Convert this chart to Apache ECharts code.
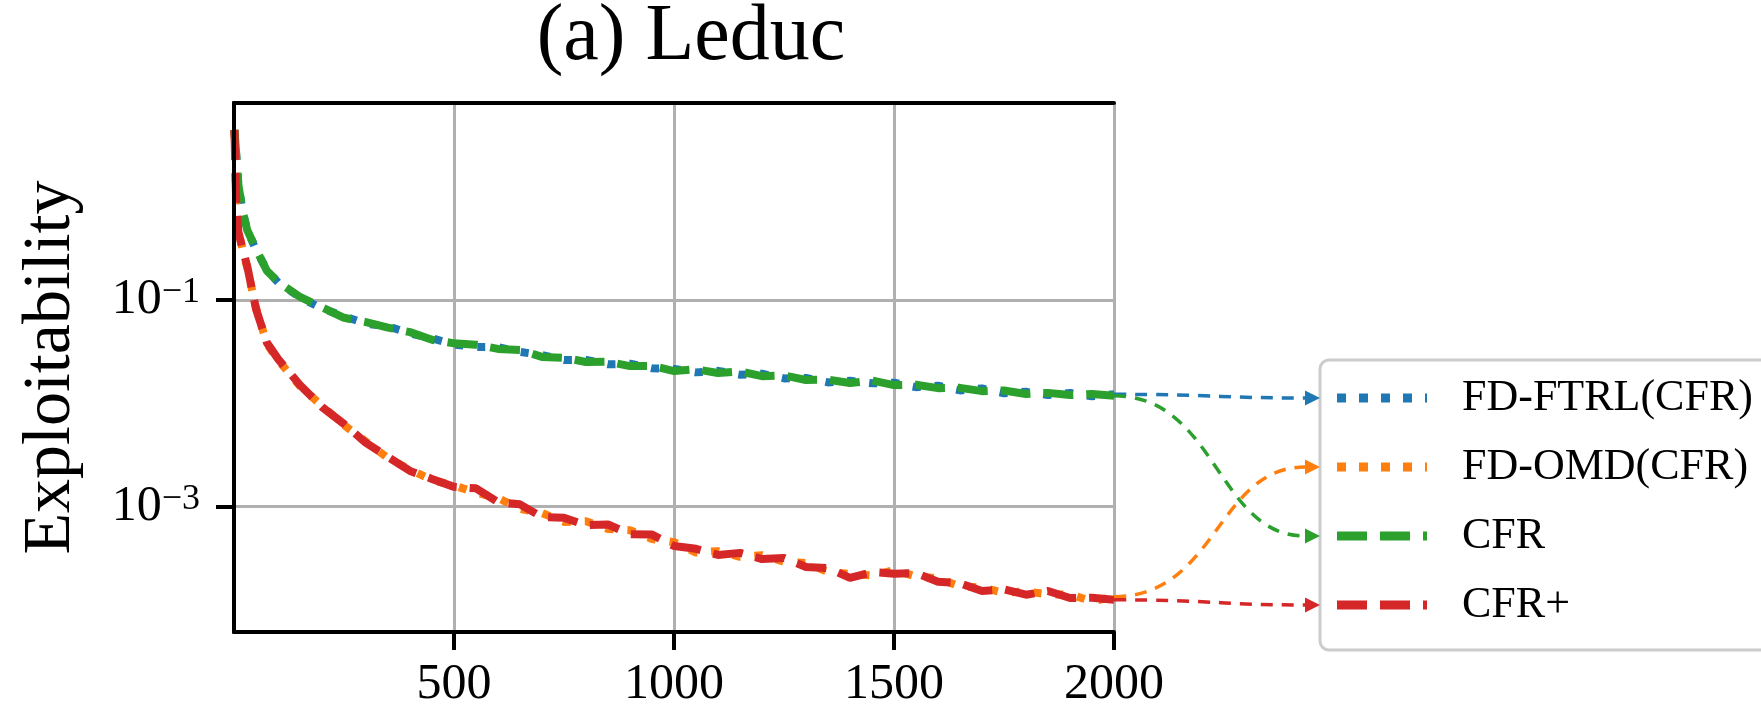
<!DOCTYPE html>
<html>
<head>
<meta charset="utf-8">
<script src="https://cdn.jsdelivr.net/npm/echarts@6/dist/echarts.min.js"></script>
<style>
  html, body { margin: 0; padding: 0; background: #fff; }
  #chart { width: 1761px; height: 713px; }
</style>
</head>
<body>
<div id="chart"></div>
<script>
const iterations = [1, 5, 10, 20, 30, 50, 75, 100, 150,
  200, 250, 300, 350, 400, 450, 500,
  550, 600, 650, 700, 750, 800, 850, 900, 950, 1000,
  1050, 1100, 1150, 1200, 1250, 1300, 1350, 1400, 1450, 1500,
  1550, 1600, 1650, 1700, 1750, 1800, 1850, 1900, 1950, 2000]

const fdFtrl = [4.40, 2.55, 1.32, 0.70, 0.48, 0.305, 0.194, 0.148, 0.106,
  0.0826, 0.0696, 0.0588, 0.0556, 0.0472, 0.0426, 0.0370,
  0.0350, 0.0350, 0.0314, 0.0293, 0.0262, 0.0263, 0.0238, 0.0241, 0.0218, 0.0215,
  0.0199, 0.0206, 0.0189, 0.0193, 0.0174, 0.0176, 0.0159, 0.0165, 0.0156, 0.0158,
  0.0143, 0.0148, 0.0133, 0.0139, 0.0125, 0.0129, 0.0120, 0.0126, 0.0117, 0.0122]

const fdOmd = [4.40, 0.90, 0.47, 0.300, 0.205, 0.0840, 0.0375, 0.0262, 0.0146,
  0.00945, 0.00615, 0.00425, 0.00294, 0.00228, 0.00180, 0.00160,
  0.00136, 0.00121, 0.000950, 0.000865, 0.000710, 0.000722, 0.000605, 0.000590, 0.000485, 0.000452,
  0.000358, 0.000370, 0.000326, 0.000338, 0.000292, 0.000283, 0.000233, 0.000222, 0.000215, 0.000242,
  0.000210, 0.000202, 0.000168, 0.000165, 0.000146, 0.000151, 0.000141, 0.000141, 0.000121, 0.000134]

const cfr = [4.43, 2.60, 1.30, 0.711, 0.476, 0.312, 0.191, 0.150, 0.107,
  0.0850, 0.0672, 0.0610, 0.0540, 0.0488, 0.0412, 0.0380,
  0.0368, 0.0336, 0.0328, 0.0281, 0.0276, 0.0251, 0.0252, 0.0229, 0.0230, 0.0205,
  0.0213, 0.0196, 0.0203, 0.0183, 0.0186, 0.0168, 0.0169, 0.0157, 0.0166, 0.0150,
  0.0151, 0.0140, 0.0141, 0.0131, 0.0133, 0.0123, 0.0126, 0.0120, 0.0123, 0.0118]

const cfrPlus = [4.43, 0.87, 0.455, 0.305, 0.213, 0.0818, 0.0384, 0.0269, 0.0150,
  0.0092, 0.0063, 0.00413, 0.00302, 0.00221, 0.00185, 0.00155,
  0.00150, 0.00110, 0.00105, 0.000790, 0.000780, 0.000660, 0.000670, 0.000540, 0.000535, 0.000415,
  0.000390, 0.000340, 0.000356, 0.000310, 0.000318, 0.000260, 0.000254, 0.000204, 0.000232, 0.000224,
  0.000227, 0.000187, 0.000181, 0.000152, 0.000158, 0.000140, 0.000152, 0.000130, 0.000131, 0.000125]

const xTicks = [500, 1000, 1500, 2000]
const yTicks = [0.1, 0.001]

const FONT = 'Liberation Serif'
const BLUE = '#1f77b4', ORANGE = '#ff7f0e', GREEN = '#2ca02c', RED = '#d62728'

// legend layout
const legendLeft = 1320
const legendTop = 360
const legendPadTop = 13
const rowH = 50
const rowGap = 19
const rowY = (i) => legendTop + legendPadTop + rowH / 2 + i * (rowH + rowGap)

// legend samples, 90 x 9
const dottedIcon = 'path://M0,0h9v9h-9z M22,0h9v9h-9z M44,0h9v9h-9z M66,0h9v9h-9z M88,0h2v9h-2z'
const dashedIcon = 'path://M0,0h30v9h-30z M43,0h30v9h-30z M86,0h4v9h-4z'

const pairs = (vals) => iterations.map((it, i) => [it, vals[i]])

const chart = echarts.init(document.getElementById('chart'))

const line = (name, vals, color, dash) => ({
  name: name,
  type: 'line',
  data: pairs(vals),
  color: color,
  symbol: 'none',
  lineStyle: { color: color, width: 8, type: dash, cap: 'butt' },
  z: 2
})

const option = {
  animation: false,
  backgroundColor: '#fff',
  grid: { left: 234, right: 647, top: 103, bottom: 81, outerBoundsMode: 'none', containLabel: false },
  legend: {
    orient: 'vertical',
    left: legendLeft,
    top: legendTop,
    padding: [legendPadTop, 400, 20, 17],
    itemWidth: 90,
    itemHeight: 9,
    itemGap: rowGap,
    selectedMode: false,
    backgroundColor: '#fff',
    borderColor: '#cccccc',
    borderWidth: 3,
    borderRadius: 9,
    itemStyle: { borderWidth: 0 },
    textStyle: { fontFamily: FONT, fontSize: 44, color: '#000', lineHeight: rowH, padding: [0, 0, 0, 30] },
    data: [
      { name: 'FD-FTRL(CFR)', icon: dottedIcon },
      { name: 'FD-OMD(CFR)', icon: dottedIcon },
      { name: 'CFR', icon: dashedIcon },
      { name: 'CFR+', icon: dashedIcon }
    ]
  },
  xAxis: [{
    type: 'value',
    min: 0,
    max: 2000,
    position: 'bottom',
    axisLine: { show: true, lineStyle: { color: '#000', width: 4 } },
    axisTick: { show: true, length: 18, customValues: xTicks, lineStyle: { color: '#000', width: 4 } },
    axisLabel: { customValues: xTicks, margin: 28, fontFamily: FONT, fontSize: 50, color: '#000',
      formatter: (v) => String(v) },
    splitLine: { show: true, lineStyle: { color: '#b0b0b0', width: 3 } }
  }, {
    // top spine
    type: 'value',
    min: 0,
    max: 2000,
    position: 'top',
    z: 3,
    axisLine: { show: true, lineStyle: { color: '#000', width: 4 } },
    axisTick: { show: false },
    axisLabel: { show: false },
    splitLine: { show: false }
  }],
  yAxis: [{
    type: 'log',
    logBase: 10,
    min: 6.1e-5,
    max: 8.07,
    position: 'left',
    name: 'Exploitability',
    nameLocation: 'middle',
    nameGap: 149,
    nameMoveOverlap: false,
    nameTextStyle: { fontFamily: FONT, fontSize: 68, color: '#000' },
    axisLine: { show: true, lineStyle: { color: '#000', width: 4 } },
    axisTick: { show: true, length: 18, customValues: yTicks, lineStyle: { color: '#000', width: 4 } },
    minorTick: { show: false },
    axisLabel: {
      customValues: yTicks,
      margin: 34,
      formatter: (v) => '{b|10}{s|\u2212' + (-Math.round(Math.log10(v))) + '}',
      rich: {
        b: { fontFamily: FONT, fontSize: 50, color: '#000', lineHeight: 50 },
        s: { fontFamily: FONT, fontSize: 36, color: '#000', lineHeight: 22, verticalAlign: 'top' }
      }
    },
    splitLine: { show: true, lineStyle: { color: '#b0b0b0', width: 3 } },
    minorSplitLine: { show: false }
  }, {
    // right spine
    type: 'log',
    logBase: 10,
    min: 6.1e-5,
    max: 8.07,
    position: 'right',
    z: 3,
    axisLine: { show: true, lineStyle: { color: '#000', width: 4 } },
    axisTick: { show: false },
    axisLabel: { show: false },
    splitLine: { show: false }
  }],
  series: [
    line('FD-FTRL(CFR)', fdFtrl, BLUE, [8, 14]),
    line('FD-OMD(CFR)', fdOmd, ORANGE, [8, 14]),
    line('CFR', cfr, GREEN, [30, 13]),
    line('CFR+', cfrPlus, RED, [30, 13])
  ],
  graphic: [{
    type: 'text',
    style: { text: '(a) Leduc', x: 691, y: 38, textAlign: 'center', textVerticalAlign: 'middle',
      font: '80px "Liberation Serif"', fill: '#000' },
    z: 10
  }]
}

chart.setOption(option)

// dashed arrows from each curve's last point to its legend row
const head = 15
const arrows = []
const ends = [[fdFtrl, BLUE], [fdOmd, ORANGE], [cfr, GREEN], [cfrPlus, RED]]
ends.forEach(([vals, color], i) => {
  const p = chart.convertToPixel({ xAxisIndex: 0, yAxisIndex: 0 },
    [iterations[iterations.length - 1], vals[vals.length - 1]])
  const x0 = p[0], y0 = p[1]
  const x1 = legendLeft, y1 = rowY(i)
  const xm = (x0 + x1) / 2
  arrows.push({
    type: 'bezierCurve',
    z: 20,
    shape: { x1: x0, y1: y0, x2: x1 - head, y2: y1, cpx1: xm, cpy1: y0, cpx2: xm, cpy2: y1 },
    style: { stroke: color, lineWidth: 3.5, lineDash: [12, 9], fill: 'none' }
  })
  arrows.push({
    type: 'polygon',
    z: 20,
    shape: { points: [[x1, y1], [x1 - head, y1 - 7.5], [x1 - head, y1 + 7.5]] },
    style: { fill: color }
  })
})

chart.setOption({ graphic: option.graphic.concat(arrows) })
</script>
</body>
</html>
